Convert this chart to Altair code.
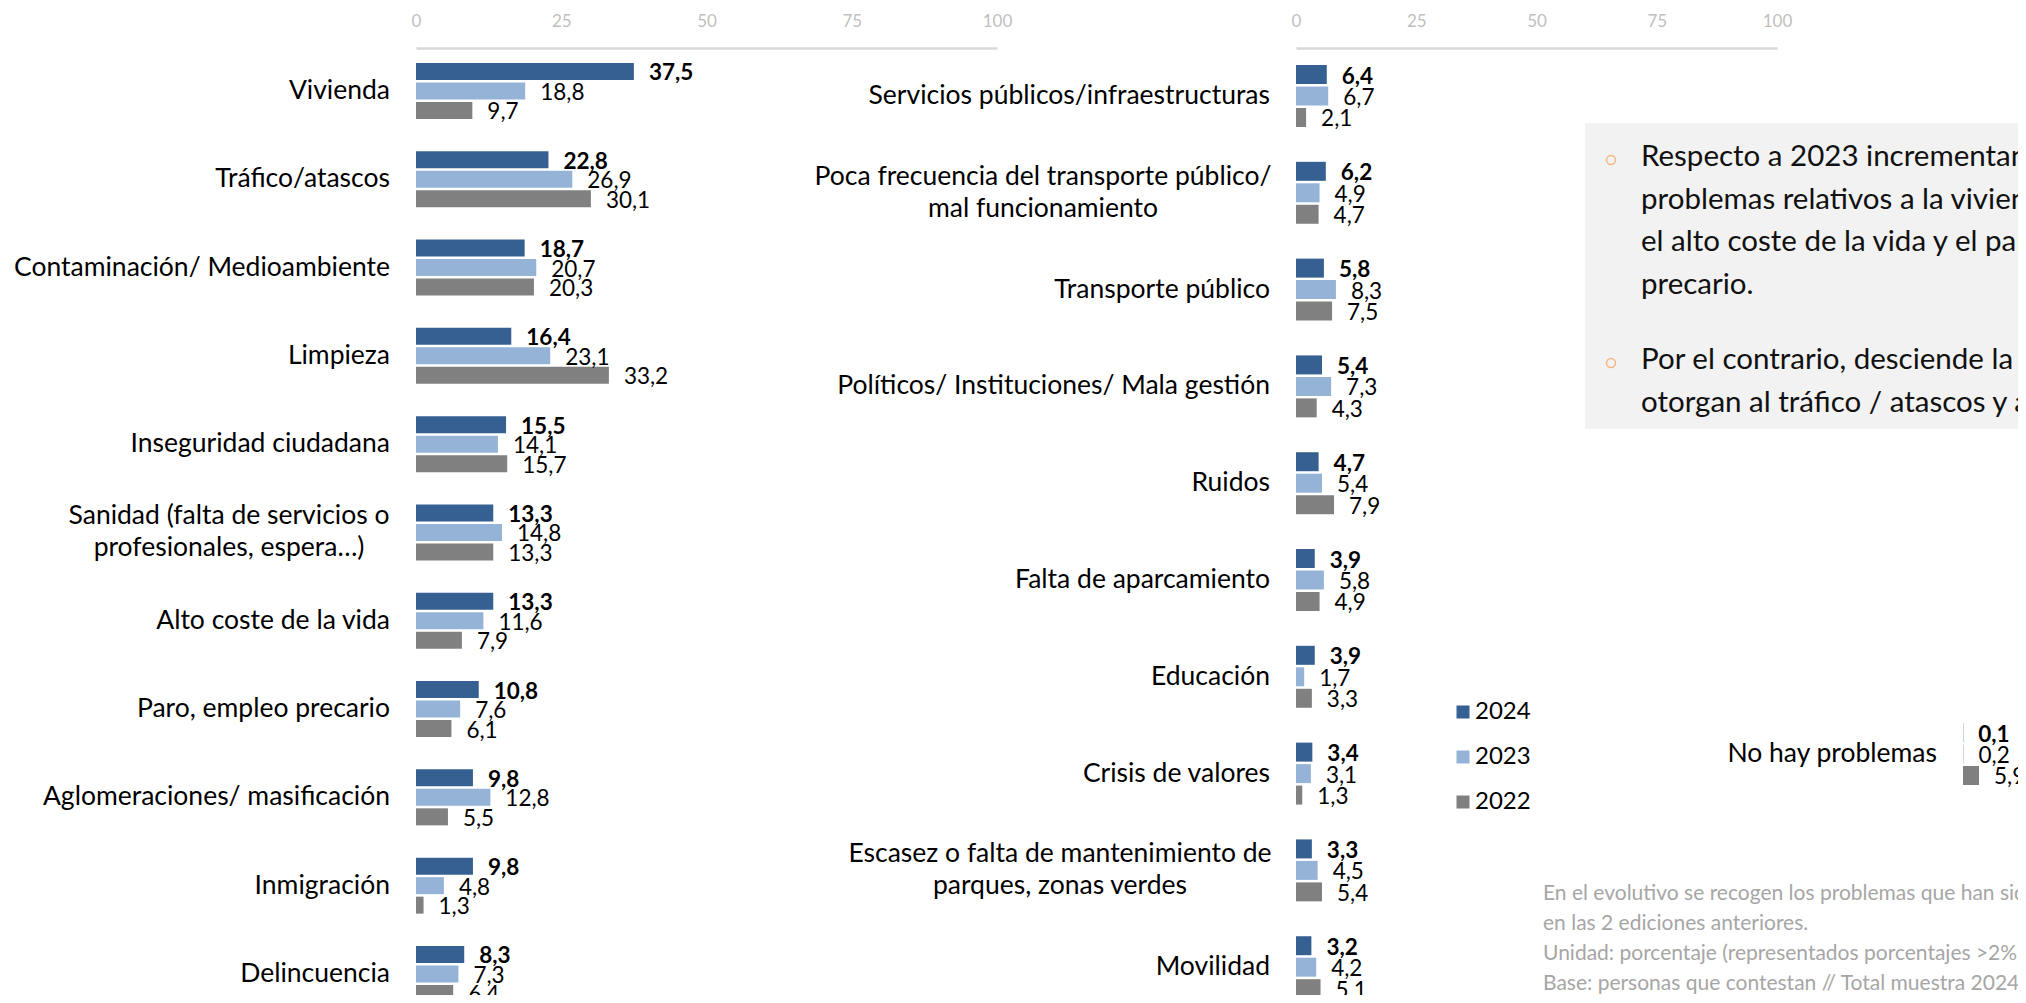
import altair as alt
import pandas as pd

FONT = "Lato"
years = ["2024", "2023", "2022"]
colors = ["#376092", "#95B3D7", "#808080"]

left_cats = [
    "Vivienda", "Tráfico/atascos", "Contaminación/ Medioambiente", "Limpieza",
    "Inseguridad ciudadana", "Sanidad (falta de servicios o\nprofesionales, espera…)",
    "Alto coste de la vida", "Paro, empleo precario", "Aglomeraciones/ masificación",
    "Inmigración", "Delincuencia",
]
left_2024 = [37.5, 22.8, 18.7, 16.4, 15.5, 13.3, 13.3, 10.8, 9.8, 9.8, 8.3]
left_2023 = [18.8, 26.9, 20.7, 23.1, 14.1, 14.8, 11.6, 7.6, 12.8, 4.8, 7.3]
left_2022 = [9.7, 30.1, 20.3, 33.2, 15.7, 13.3, 7.9, 6.1, 5.5, 1.3, 6.4]

right_cats = [
    "Servicios públicos/infraestructuras",
    "Poca frecuencia del transporte público/\nmal funcionamiento",
    "Transporte público", "Políticos/ Instituciones/ Mala gestión", "Ruidos",
    "Falta de aparcamiento", "Educación", "Crisis de valores",
    "Escasez o falta de mantenimiento de\nparques, zonas verdes", "Movilidad",
]
right_2024 = [6.4, 6.2, 5.8, 5.4, 4.7, 3.9, 3.9, 3.4, 3.3, 3.2]
right_2023 = [6.7, 4.9, 8.3, 7.3, 5.4, 5.8, 1.7, 3.1, 4.5, 4.2]
right_2022 = [2.1, 4.7, 7.5, 4.3, 7.9, 4.9, 3.3, 1.3, 5.4, 5.1]

nohay_cats = ["No hay problemas"]
nohay_2024 = [0.1]
nohay_2023 = [0.2]
nohay_2022 = [5.9]

axis_ticks = [0, 25, 50, 75, 100]

para1 = ["Respecto a 2023 incrementan los", "problemas relativos a la vivienda,",
         "el alto coste de la vida y el paro, empleo", "precario."]
para2 = ["Por el contrario, desciende la importancia que",
         "otorgan al tráfico / atascos y a la limpieza."]
notes = ["En el evolutivo se recogen los problemas que han sido mencionados por más del 2%",
         "en las 2 ediciones anteriores.",
         "Unidad: porcentaje (representados porcentajes >2%)",
         "Base: personas que contestan // Total muestra 2024"]

# layout only: horizontal centre of the two-line (centred) category labels
wrapped_center_x = {
    left_cats[5]: 221,
    right_cats[1]: 1035,
    right_cats[8]: 1052,
}


def long(cats, a24, a23, a22):
    rows = []
    for c, v1, v2, v3 in zip(cats, a24, a23, a22):
        for y, v in zip(years, (v1, v2, v3)):
            rows.append({"cat": c, "year": y, "value": v,
                         "label": f"{v:.1f}".replace(".", ",")})
    return pd.DataFrame(rows)


color_enc = alt.Color(
    "year:N",
    scale=alt.Scale(domain=years, range=colors),
    legend=alt.Legend(orient="none", legendX=1443, legendY=692, title=None,
                      symbolType="square", symbolSize=169, symbolStrokeWidth=0,
                      labelFont=FONT, labelFontSize=24, labelColor="black",
                      labelOffset=0, rowPadding=21, padding=0),
)


def panel(df, cats, x_range, y_range, pin, pout, opin, label_x, show_axis):
    xs = alt.Scale(domain=[0, 100], range=x_range, nice=False, zero=True)
    ys = alt.Scale(domain=cats, range=y_range, paddingInner=pin, paddingOuter=pout)
    yo = alt.Scale(type="band", domain=years, paddingInner=opin, paddingOuter=0)
    if show_axis:
        xa = alt.Axis(orient="top", offset=-40, values=axis_ticks, ticks=False, grid=False,
                      domainColor="#d9d9d9", domainWidth=2.5, labelColor="#bfbfbf",
                      labelFont=FONT, labelFontSize=17, labelPadding=18, title=None,
                      labelFlush=False)
    else:
        xa = None
    base = alt.Chart(df)
    bars = base.mark_bar().encode(
        x=alt.X("value:Q", scale=xs, axis=xa),
        y=alt.Y("cat:N", scale=ys, axis=None),
        yOffset=alt.YOffset("year:N", scale=yo),
        color=color_enc,
    )
    enc = dict(
        x=alt.X("value:Q", scale=xs, axis=None),
        y=alt.Y("cat:N", scale=ys, axis=None),
        yOffset=alt.YOffset("year:N", scale=yo),
        text=alt.Text("label:N"),
    )
    t24 = base.transform_filter(alt.datum.year == "2024").mark_text(
        align="left", baseline="middle", dx=15, dy=2, font=FONT, fontSize=22.5,
        fontWeight="bold", color="black").encode(**enc)
    tot = base.transform_filter(alt.datum.year != "2024").mark_text(
        align="left", baseline="middle", dx=15, dy=2, font=FONT, fontSize=22.5,
        color="black").encode(**enc)
    single = [c for c in cats if "\n" not in c]
    multi = [c for c in cats if "\n" in c]
    layers = [bars, t24, tot]
    cl = alt.Chart(pd.DataFrame({"cat": single})).mark_text(
        align="right", baseline="middle", font=FONT, fontSize=26.5,
        color="black").encode(
        x=alt.value(label_x),
        y=alt.Y("cat:N", scale=ys, axis=None),
        text=alt.Text("cat:N"),
    )
    layers.append(cl)
    if multi:
        mdf = pd.DataFrame({"cat": multi, "cx": [wrapped_center_x[c] for c in multi]})
        cm = alt.Chart(mdf).mark_text(
            align="center", baseline="middle", dy=-16, font=FONT, fontSize=26.5,
            lineBreak="\n", lineHeight=32, color="black").encode(
            x=alt.X("cx:Q", scale=None),
            y=alt.Y("cat:N", scale=ys, axis=None),
            text=alt.Text("cat:N"),
        )
        layers.append(cm)
    return layers


left = panel(long(left_cats, left_2024, left_2023, left_2022), left_cats,
             [408, 989], [38.8, 1010.1], 0.366, 0.183, 0.128, 382, True)
right = panel(long(right_cats, right_2024, right_2023, right_2022), right_cats,
              [1288, 1769], [39.6, 1007.6], 0.36, 0.18, 0.116, 1262, True)
third = panel(long(nohay_cats, nohay_2024, nohay_2023, nohay_2022), nohay_cats,
              [1955, 2226], [697.6, 794.4], 0.36, 0.18, 0.116, 1929, False)

one = pd.DataFrame({"a": [0]})
box = alt.Chart(one).mark_rect(color="#f2f2f2").encode(
    x=alt.value(1577), x2=alt.value(2010), y=alt.value(115), y2=alt.value(421))
bullets = alt.Chart(pd.DataFrame({"b": [0, 1]})).mark_point(
    shape="circle", filled=False, color="#F5A05A", size=80, strokeWidth=1.5).encode(
    x=alt.value(1603),
    y=alt.Y("b:Q", scale=alt.Scale(domain=[0, 1], range=[152, 355], nice=False, zero=False),
            axis=None))
p1 = alt.Chart(one).mark_text(text=para1, align="left", baseline="alphabetic",
                              font=FONT, fontSize=29.5, lineHeight=42.5, color="#111111").encode(
    x=alt.value(1633), y=alt.value(158))
p2 = alt.Chart(one).mark_text(text=para2, align="left", baseline="alphabetic",
                              font=FONT, fontSize=29.5, lineHeight=42.5, color="#111111").encode(
    x=alt.value(1633), y=alt.value(361))
nt = alt.Chart(one).mark_text(text=notes, align="left", baseline="alphabetic",
                              font=FONT, fontSize=21, lineHeight=30, color="#a6a6a6").encode(
    x=alt.value(1535), y=alt.value(892))

chart = alt.layer(box, bullets, p1, p2, nt, *left, *right, *third).resolve_scale(
    x="independent", y="independent", yOffset="independent"
).properties(
    width=2010, height=987, padding=0,
    autosize=alt.AutoSizeParams(type="none"),
).configure_view(stroke="transparent")

chart.save("out.html", embed_options={"renderer": "svg", "actions": False})
